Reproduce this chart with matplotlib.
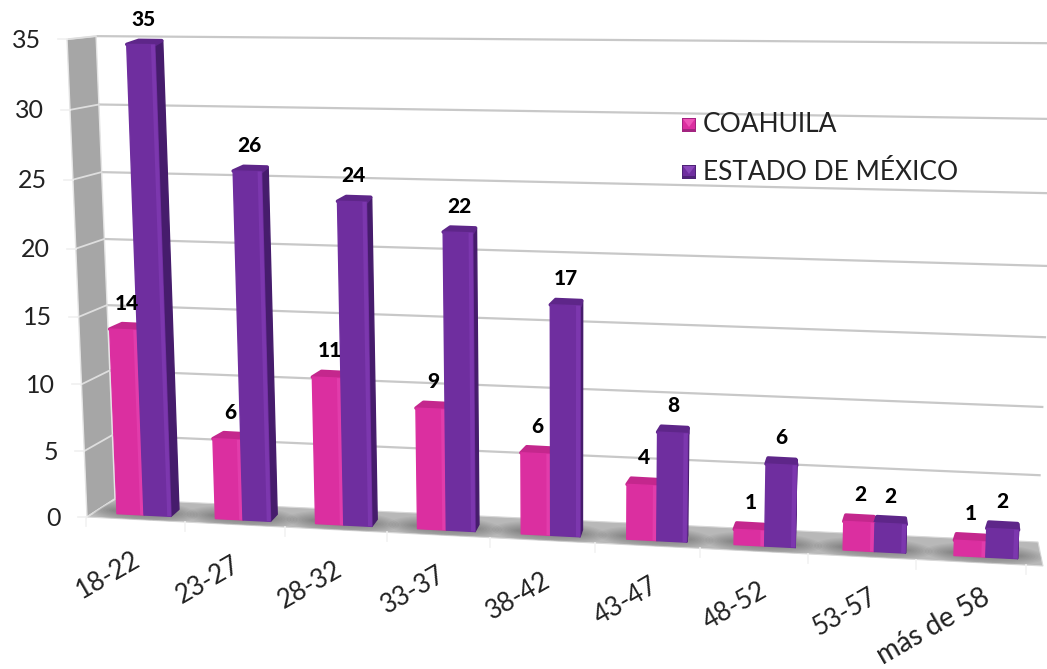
"""
3D looking bar chart of age groups, drawn by hand on a pixel sized axes
"""
from matplotlib import pyplot as plt
from matplotlib.patches import Polygon, Ellipse

categories = ['18-22', '23-27', '28-32', '33-37', '38-42', '43-47', '48-52', '53-57', 'más de 58']
coahuila = [14, 6, 11, 9, 6, 4, 1, 2, 1]
estado_mexico = [35, 26, 24, 22, 17, 8, 6, 2, 2]
y_ticks = [0, 5, 10, 15, 20, 25, 30, 35]
series_names = ['COAHUILA', 'ESTADO DE MÉXICO']

PINK = dict(front='#DB2FA0', light='#E23CAB', side='#8F1F6C', top='#C4278D', mark='#EE55B8', dark='#A32480')
PURPLE = dict(front='#6F2E9F', light='#7C37AE', side='#461C6C', top='#5E2689', mark='#8A48BA', dark='#4E2377')
FONT = 'Lato'


def group_x(i):
    return 144 + 98.1 * i + 0.89 * i ** 2


def half_width(i):
    return 27 + 0.6 * i


def base_y(x):
    return 515 + (x - 144) * 0.05


def lean_x(x, v):
    return x + (x - 570) * 0.00116 * v


def wall_height(x, v):
    u = (x - 115) / 923
    return (12.7 + 0.5 * u) * v + (0.015 + 0.015 * u) * v ** 2


def bar_height(x, v):
    return 1.01 * wall_height(x, v) + 2


def depth_x(x):
    return max((760 - x) * 0.0135, 0)


def wall_point(u, v):
    # u goes along the back wall, 0 at the left and 1 at the right
    x_bottom = 115 + u * 923
    x = x_bottom + (-0.54 + 1.08 * u) * v
    y = 499 + u * 43 - (12.7 + 0.5 * u) * v - (0.015 + 0.015 * u) * v ** 2
    return x, y


def side_point(v):
    return 87 - 0.57 * v, 517 - 13.1 * v - 0.0157 * v ** 2


def draw_bar(ax, x0, x1, v, col):
    by0, by1 = base_y(x0), base_y(x1)
    h0, h1 = bar_height(x0, v), bar_height(x1, v)
    tx0, tx1 = lean_x(x0, v), lean_x(x1, v)
    top0, top1 = by0 - h0, by1 - h1
    dy = 6.5 - 0.07 * v
    d0, d1 = depth_x(x0), depth_x(x1)

    ax.add_patch(Polygon([(x1, by1), (x1 + d1, by1 - 7), (tx1 + d1, top1 - dy), (tx1, top1)],
                         fc=col['side'], ec=col['side'], lw=1, joinstyle='round', zorder=5))
    ax.add_patch(Polygon([(tx0, top0), (tx1, top1), (tx1 + d1 - 1, top1 - dy), (tx0 + d0 * 1.2 + 2, top0 - dy)],
                         fc=col['top'], ec=col['top'], lw=2.5, joinstyle='round', zorder=5))
    ax.add_patch(Polygon([(x0, by0), (x1, by1), (tx1, top1), (tx0, top0)],
                         fc=col['front'], ec=col['front'], lw=1, joinstyle='round', zorder=6))
    # slim lighter strip next to the right edge of the front
    s0 = x1 - (x1 - x0) * 0.14
    ts0 = lean_x(s0, v)
    ax.add_patch(Polygon([(s0, base_y(s0)), (x1, by1), (tx1, top1), (ts0, base_y(s0) - bar_height(s0, v))],
                         fc=col['light'], ec='none', zorder=6))
    return (tx0 + tx1) / 2 + d1 / 3, (top0 + top1) / 2 - dy


def draw_marker(ax, x, y, col, size=14):
    # small pyramid: light on top, dark below
    ax.add_patch(Polygon([(x, y), (x + size, y), (x + size, y + size), (x, y + size)],
                         fc=col['dark'], ec='none', zorder=8))
    ax.add_patch(Polygon([(x + 1, y + 1), (x + size - 1, y + 1), (x + size - 1, y + size - 3), (x + 1, y + size - 3)],
                         fc=col['front'], ec='none', zorder=8))
    ax.add_patch(Polygon([(x + 1, y + 1), (x + size - 1, y + 1), (x + size / 2, y + size - 5)],
                         fc=col['mark'], ec='none', zorder=8))


fig = plt.figure(figsize=(10.47, 6.69), dpi=100)
ax = fig.add_axes([0, 0, 1, 1])
ax.set_xlim(0, 1047)
ax.set_ylim(669, 0)
ax.axis('off')

# side wall and floor
ax.add_patch(Polygon([side_point(35), wall_point(0, 35), wall_point(0, 0), side_point(0)],
                     fc='#A6A6A6', ec='#E4E4E4', lw=1, zorder=1))
floor = Polygon([(87, 517), (115, 499), (1038, 542), (1043, 566)], fc='#B8B8B8', ec='#D8D8D8', lw=0.8, zorder=1)
ax.add_patch(floor)

# gridlines, tick marks and value labels
for v in y_ticks:
    if v > 0:
        x_end, y_end = wall_point(1, v)
        x_start, y_start = wall_point(0, v)
        ax.plot([x_start, x_end], [y_start, y_end], color='#C8C8C8', lw=1.6, zorder=2, solid_capstyle='butt')
    ox, oy = side_point(v)
    ix, iy = wall_point(0, v)
    ax.plot([ox, ix], [oy, iy], color='#DEDEDE', lw=1.3, zorder=2)
    ax.plot([ox - 9, ox], [oy, oy], color='#F0F0F0', lw=1.2, zorder=2)
    ax.text(ox - 26, oy + 1, str(v), ha='right', va='center', fontsize=18, family=FONT,
            color='#222222', zorder=9)

# small ticks under the floor
for i in range(10):
    tx = 86 + 99 * i + 0.68 * i * (i - 1)
    ty = 517 + (tx - 87) * 0.0513
    ax.plot([tx, tx], [ty, ty + 9], color='#F2F2F2', lw=1.2, zorder=1)

# shadows on the floor, then the bars
for i in range(len(categories)):
    xm = group_x(i)
    w = half_width(i)
    for k in range(9):
        e = Ellipse((xm - 1, base_y(xm) - 3), 2 * w + 56 - 6 * k, 22 - 2 * k, angle=3,
                    fc='#303030', ec='none', alpha=0.045, zorder=3)
        ax.add_patch(e)
        e.set_clip_path(floor)

for i, name in enumerate(categories):
    xm = group_x(i)
    w = half_width(i)
    lx, ly = draw_bar(ax, xm - w, xm, coahuila[i], PINK)
    ax.text(lx + 1, ly - 21, str(coahuila[i]), ha='center', va='center', fontsize=15, family=FONT,
            fontweight='black', color='black', zorder=9)
    lx, ly = draw_bar(ax, xm, xm + w, estado_mexico[i], PURPLE)
    ax.text(lx, ly - 21, str(estado_mexico[i]), ha='center', va='center', fontsize=15, family=FONT,
            fontweight='black', color='black', zorder=9)
    # the one wordy label runs longer than the others
    size = 20 if name[0].isalpha() else 18.5
    shift = 5 if name[0].isalpha() else 0
    ax.text(xm - 6 + i, base_y(xm) + 43 - shift, name, rotation=30, rotation_mode='anchor', ha='right', va='center',
            fontsize=size, family=FONT, color='#222222', zorder=9)

# legend
for name, col, y in zip(series_names, [PINK, PURPLE], [118, 165]):
    draw_marker(ax, 682, y, col)
    ax.text(703, y + 7, name, ha='left', va='center', fontsize=19, family=FONT, color='#222222', zorder=9)

plt.savefig('out.png', dpi=100)
